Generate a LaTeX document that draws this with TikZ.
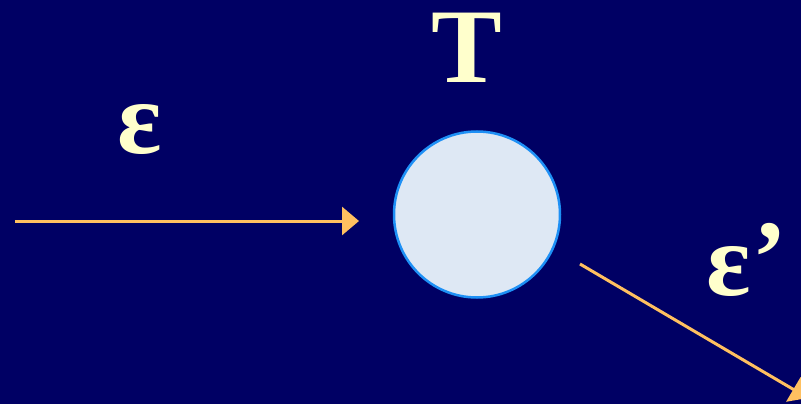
\documentclass[tikz,border=0pt]{standalone}
\usepackage{fontspec}
\setmainfont{Liberation Serif}
\usetikzlibrary{arrows.meta}
\definecolor{bgnavy}{RGB}{0,0,100}
\definecolor{creamtxt}{RGB}{255,255,204}
\definecolor{arroworange}{RGB}{255,192,96}
\definecolor{ballfill}{RGB}{222,232,244}
\definecolor{ballrim}{RGB}{30,144,245}
\tikzset{
  lbl/.style={text=creamtxt, font=\bfseries, inner sep=0pt},
  beam/.style={draw=arroworange, line width=3pt, -{Triangle[length=17pt,width=28pt]}},
  ball/.style={circle, draw=ballrim, line width=2.5pt, fill=ballfill, minimum size=166pt, inner sep=0pt}
}
\begin{document}
\begin{tikzpicture}[x=1pt,y=-1pt]
\fill[bgnavy] (0,0) rectangle (801,404);
\useasboundingbox (0,0) rectangle (801,404);
\node[ball] (target) at (477,214.5) {};
\node[lbl, anchor=base, font=\bfseries\fontsize{106}{106}\selectfont] (tlab) at (467,82) {T};
\node[lbl, anchor=base, font=\bfseries\fontsize{104}{104}\selectfont] (epsin) at (140,153) {ε};
\node[lbl, anchor=base west, font=\bfseries\fontsize{104}{104}\selectfont] (epsout) at (706,295) {ε\kern2pt\raisebox{3pt}{’}};
\coordinate (inStart) at (15,221);
\coordinate (inEnd) at (359,221);
\coordinate (outStart) at (580,264);
\coordinate (outEnd) at (808,398);
\draw[beam] (inStart) -- (inEnd);
\draw[beam] (outStart) -- (outEnd);
\end{tikzpicture}
\end{document}
